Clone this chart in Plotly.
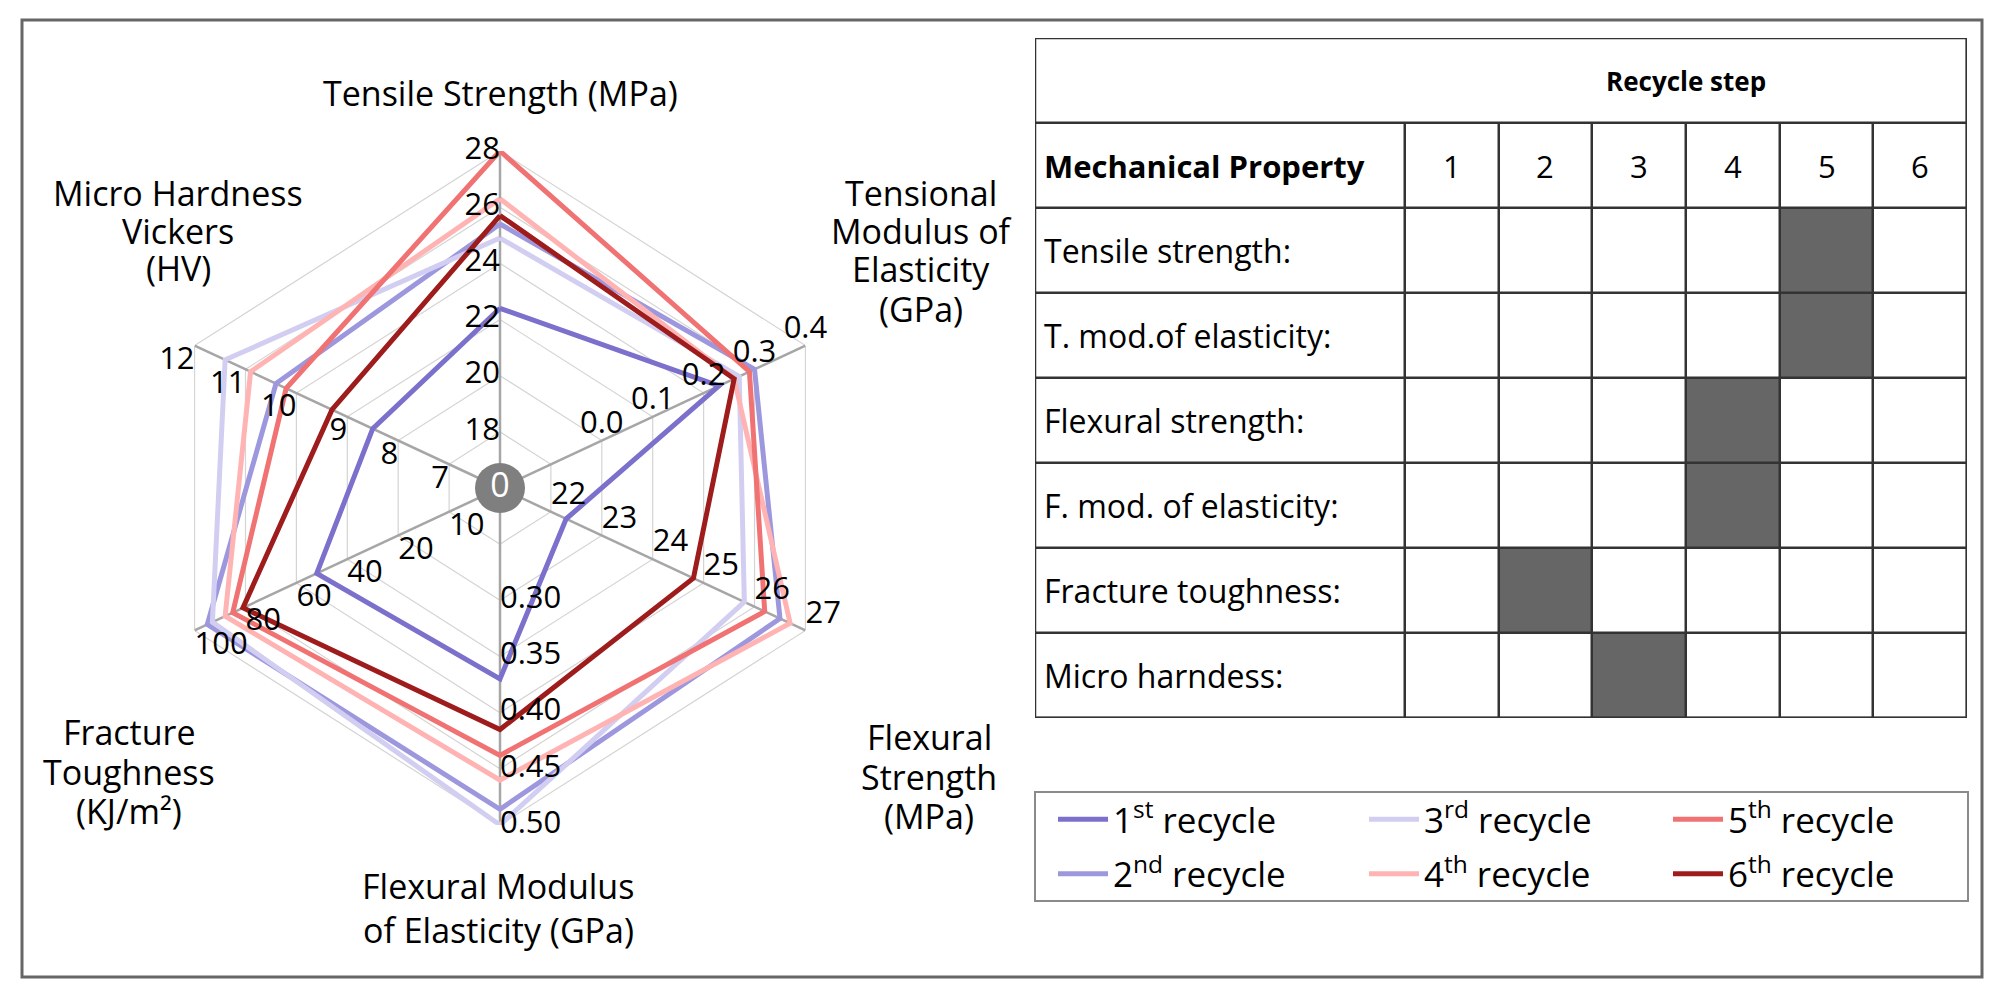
import numpy as np
import plotly.graph_objects as go

# the page body has an 8px margin: build the figure 8px smaller and
# express every layout position in page pixels
PAGE_W, PAGE_H = 2004, 996
OFF = 8
W, H = PAGE_W - OFF, PAGE_H - OFF
FONT = "Open Sans"

# ---------------- data ----------------
SERIES = ["1st recycle", "2nd recycle", "3rd recycle", "4th recycle", "5th recycle", "6th recycle"]
SERIES_LABELS = ["1<sup>st</sup> recycle", "2<sup>nd</sup> recycle", "3<sup>rd</sup> recycle",
                 "4<sup>th</sup> recycle", "5<sup>th</sup> recycle", "6<sup>th</sup> recycle"]
COLORS = ["#7B70CC", "#9D98DE", "#D2CEF2", "#FFB3B3", "#F07272", "#9E1C1C"]

tensile_strength = [22.4, 25.4, 24.9, 26.3, 28.0, 25.7]
tensional_modulus = [0.23, 0.30, 0.27, 0.26, 0.29, 0.26]
flexural_strength = [22.3, 26.5, 25.8, 26.7, 26.2, 24.8]
flexural_modulus = [0.37, 0.486, 0.50, 0.46, 0.438, 0.415]
fracture_toughness = [52, 95, 93, 88, 85, 81]
micro_hardness = [8.5, 10.4, 11.4, 10.9, 10.2, 9.3]

# scale value at grid rings 0..6 for every axis
ring_tensile = [16, 18, 20, 22, 24, 26, 28]
ring_tens_mod = [-0.2, -0.1, 0.0, 0.1, 0.2, 0.3, 0.4]
ring_flex_str = [21, 22, 23, 24, 25, 26, 27]
ring_flex_mod = [0.20, 0.25, 0.30, 0.35, 0.40, 0.45, 0.50]
ring_fracture = [0, 10, 20, 40, 60, 80, 100]
ring_hardness = [6, 7, 8, 9, 10, 11, 12]

# tick labels shown on the outer rings
tick_tensile = ["18", "20", "22", "24", "26", "28"]
tick_tens_mod = ["0.0", "0.1", "0.2", "0.3", "0.4"]
tick_flex_str = ["22", "23", "24", "25", "26", "27"]
tick_flex_mod = ["0.30", "0.35", "0.40", "0.45", "0.50"]
tick_fracture = ["10", "20", "40", "60", "80", "100"]
tick_hardness = ["7", "8", "9", "10", "11", "12"]

# table
PROPERTIES = ["Tensile strength:", "T. mod.of elasticity:", "Flexural strength:",
              "F. mod. of elasticity:", "Fracture toughness:", "Micro harndess:"]
STEPS = [1, 2, 3, 4, 5, 6]
BEST_STEP = [5, 5, 4, 4, 2, 3]

# ---------------- geometry / style ----------------
AXIS_THETA = [90, 25, -25, -90, 205, 155]
values = [tensile_strength, tensional_modulus, flexural_strength,
          flexural_modulus, fracture_toughness, micro_hardness]
rings = [ring_tensile, ring_tens_mod, ring_flex_str, ring_flex_mod, ring_fracture, ring_hardness]
ticks = [tick_tensile, tick_tens_mod, tick_flex_str, tick_flex_mod, tick_fracture, tick_hardness]
tick_pos = ["middle left", "top center", "top right", "middle right", "bottom right", "bottom left"]


def px_x(p):
    return (p - OFF) / W


def px_y(p):
    return 1 - (p - OFF) / H


fig = go.Figure()

# grid rings
for k in range(1, 7):
    fig.add_trace(go.Scatterpolar(r=[k] * 7, theta=AXIS_THETA + AXIS_THETA[:1], mode="lines",
                                  line=dict(color="#d4d4d4", width=1.2), hoverinfo="skip",
                                  showlegend=False))
# spokes
for th in AXIS_THETA:
    fig.add_trace(go.Scatterpolar(r=[0, 6], theta=[th, th], mode="lines",
                                  line=dict(color="#a6a6a6", width=2.5), hoverinfo="skip",
                                  showlegend=False))

# data series
legend_of = ["legend", "legend", "legend2", "legend2", "legend3", "legend3"]
for s, name in enumerate(SERIES):
    rr = [float(np.interp(values[a][s], rings[a], list(range(7)))) for a in range(6)]
    fig.add_trace(go.Scatterpolar(r=rr + rr[:1], theta=AXIS_THETA + AXIS_THETA[:1],
                                  mode="lines", name=SERIES_LABELS[s],
                                  line=dict(color=COLORS[s], width=5),
                                  legend=legend_of[s], legendgroup=name))

# tick labels
for a in range(6):
    n = len(ticks[a])
    rr = list(range(7 - n, 7))
    fig.add_trace(go.Scatterpolar(r=rr, theta=[AXIS_THETA[a]] * n, mode="text", text=ticks[a],
                                  textposition=tick_pos[a],
                                  textfont=dict(family=FONT, size=31, color="#000"),
                                  hoverinfo="skip", showlegend=False))

# center disc
fig.add_trace(go.Scatterpolar(r=[0], theta=[0], mode="markers+text", text=["0"],
                              textposition="middle center",
                              marker=dict(size=50, color="#7f7f7f"),
                              textfont=dict(family=FONT, size=34, color="white"),
                              hoverinfo="skip", showlegend=False))

# ---------------- table as heatmap ----------------
xedges = [-3.95, 0, 1, 2, 3, 4, 5, 6]
z_body = [[0] * 7]
for b in BEST_STEP:
    z_body.append([0] + [1 if st == b else 0 for st in STEPS])
fig.add_trace(go.Heatmap(z=z_body, x=xedges, y=list(range(1, 9)), xaxis="x", yaxis="y",
                         colorscale=[[0, "white"], [1, "#666666"]], zmin=0, zmax=1,
                         showscale=False, xgap=2.5, ygap=2.5, hoverinfo="skip"))
fig.add_trace(go.Heatmap(z=[[0]], x=[-3.95, 6], y=[0, 1], xaxis="x", yaxis="y",
                         colorscale=[[0, "white"], [1, "#666666"]], zmin=0, zmax=1,
                         showscale=False, xgap=2.5, ygap=2.5, hoverinfo="skip"))

ann = []
ann.append(dict(x=3, y=0.5, xref="x", yref="y", text="<b>Recycle step</b>", showarrow=False,
                xanchor="center", yanchor="middle",
                font=dict(family=FONT, size=26, color="#000")))
ann.append(dict(x=-3.88, y=1.5, xref="x", yref="y", text="<b>Mechanical Property</b>", showarrow=False,
                xanchor="left", yanchor="middle", font=dict(family=FONT, size=31, color="#000")))
for st in STEPS:
    ann.append(dict(x=st - 0.5, y=1.5, xref="x", yref="y", text=str(st), showarrow=False,
                    xanchor="center", yanchor="middle",
                    font=dict(family=FONT, size=31, color="#000")))
for i, p in enumerate(PROPERTIES):
    ann.append(dict(x=-3.88, y=i + 2.5, xref="x", yref="y", text=p, showarrow=False,
                    xanchor="left", yanchor="middle", font=dict(family=FONT, size=32, color="#000")))

# axis titles (one annotation per line), page pixel centres
titles = [
    (["Tensile Strength (MPa)"], 500, [93]),
    (["Tensional", "Modulus of", "Elasticity", "(GPa)"], 921, [193, 231, 269, 309]),
    (["Flexural", "Strength", "(MPa)"], 929, [737, 777, 816]),
    (["Flexural Modulus", "of Elasticity (GPa)"], 498, [886, 930]),
    (["Fracture", "Toughness", "(KJ/m²)"], 129, [732, 772, 811]),
    (["Micro Hardness", "Vickers", "(HV)"], 178, [193, 231, 268]),
]
for lines, xc, ys in titles:
    for t, yc in zip(lines, ys):
        ann.append(dict(x=px_x(xc), y=px_y(yc), xref="paper", yref="paper", text=t,
                        xanchor="center", yanchor="middle",
                        showarrow=False, font=dict(family=FONT, size=34, color="#000")))

shapes = [
    dict(type="rect", xref="paper", yref="paper", x0=px_x(22), x1=px_x(1982), y0=px_y(977), y1=px_y(20),
         line=dict(color="#666666", width=3)),
    dict(type="rect", xref="paper", yref="paper", x0=px_x(1035), x1=px_x(1968), y0=px_y(901), y1=px_y(792),
         line=dict(color="#8a8a8a", width=2)),
    dict(type="rect", xref="x", yref="y", x0=-3.95, x1=6, y0=0, y1=8,
         line=dict(color="#333333", width=2.5)),
]

leg_common = dict(yanchor="top", xanchor="left", bgcolor="rgba(0,0,0,0)", borderwidth=0,
                  font=dict(family=FONT, size=35, color="#000"), itemwidth=50,
                  tracegroupgap=6, orientation="v")

fig.update_layout(
    width=W, height=H, margin=dict(l=0, r=0, t=0, b=0),
    paper_bgcolor="white", plot_bgcolor="#333333",
    polar=dict(domain=dict(x=[px_x(163), px_x(837)], y=[px_y(825), px_y(151)]),
               bgcolor="rgba(0,0,0,0)",
               radialaxis=dict(visible=False, range=[0, 6]),
               angularaxis=dict(visible=False, rotation=0, direction="counterclockwise")),
    xaxis=dict(domain=[px_x(1035), px_x(1967)], range=[-3.95, 6], showgrid=False, zeroline=False,
               showticklabels=False, ticks="", fixedrange=True),
    yaxis=dict(domain=[px_y(718), px_y(38)], range=[8, 0], showgrid=False, zeroline=False,
               showticklabels=False, ticks="", fixedrange=True),
    legend=dict(x=px_x(1053), y=px_y(790), **leg_common),
    legend2=dict(x=px_x(1364), y=px_y(790), **leg_common),
    legend3=dict(x=px_x(1668), y=px_y(790), **leg_common),
    annotations=ann, shapes=shapes, showlegend=True,
)

fig.write_html("out.html")
